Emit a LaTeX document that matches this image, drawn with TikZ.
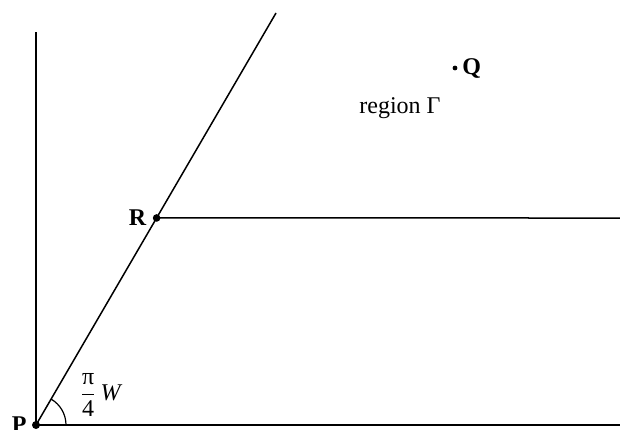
\documentclass[tikz,border=0pt]{standalone}
\usepackage{amsmath}
\usepackage{fontspec}
\setmainfont{Liberation Serif}
\usepackage{tikz}
\usetikzlibrary{positioning,calc}

\begin{document}
\begin{tikzpicture}[x=0.5pt,y=-0.5pt, every node/.style={font=\large},
  ln/.style={line width=0.75pt},
  lbl/.style={font=\large\bfseries,inner sep=0pt},
  pt/.style={fill=black}]
  \useasboundingbox (0,0) rectangle (620,429);
  % corner points
  \coordinate (P) at (36,425);
  \coordinate (top) at (36,32);
  \coordinate (far) at (276,13);
  \coordinate (R) at ($(P)!0.5025!(far)$);
  \coordinate (Rend) at (620,218);
  \coordinate (Pend) at (620,425);
  \coordinate (Q) at (455,68);
  % lines
  \draw[ln] (P) -- (top);
  \draw[ln] (P) -- (far);
  \draw[ln] (R) -- (Rend);
  \draw[ln] (P) -- (Pend);
  \draw[line width=0.6pt] (P) ++(30,0) arc[start angle=0,end angle=-59.8,radius=30];
  % dots and labels
  \fill[pt] (P) circle[radius=2pt];
  \fill[pt] (R) circle[radius=1.9pt];
  \fill[pt] (Q) circle[radius=1.2pt];
  \node[lbl,left=4.5pt of P] (Plbl) {P};
  \node[lbl,left=5pt of R] (Rlbl) {R};
  \node[lbl,right=3.5pt of Q] (Qlbl) {Q};
  \node (reg) at (400,108) {region Γ};
  \node (ang) at (101,395) {$\dfrac{\mbox{π}}{\mbox{4}}$\,\textit{W}};
\end{tikzpicture}
\end{document}
